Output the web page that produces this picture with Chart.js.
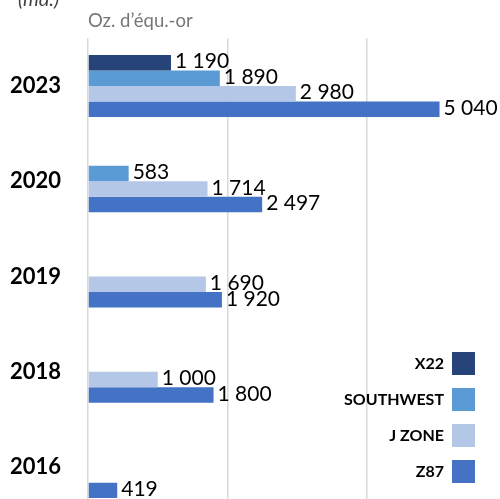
<!DOCTYPE html>
<html>
<head>
<meta charset="utf-8">
<script src="https://cdn.jsdelivr.net/npm/chart.js@4"></script>
<style>
  html, body { margin: 0; padding: 0; overflow: hidden; background: #fff; }
  canvas { display: block; }
</style>
</head>
<body>
<canvas id="prodChart" width="500" height="530"></canvas>
<script>
// categories (années) et séries
var categories = ['2023', '2020', '2019', '2018', '2016'];
var seriesNames = ['X22', 'SOUTHWEST', 'J ZONE', 'Z87'];
var x22 = [1190, null, null, null, null];
var southwest = [1890, 583, null, null, null];
var jZone = [2980, 1714, 1690, 1000, null];
var z87 = [5040, 2497, 1920, 1800, 419];
var gridTicks = [0, 2000, 4000];

var colors = ['#264478', '#5B9BD5', '#B4C7E7', '#4472C4'];
var FONT = 'Lato, "Open Sans", sans-serif';

function formatNumber(v) {
    return String(v).replace(/\B(?=(\d{3})+(?!\d))/g, ' ');
}

// étiquettes de valeur au bout des barres
var valueLabels = {
    id: 'valueLabels',
    afterDatasetsDraw: function (chart) {
        var ctx = chart.ctx;
        ctx.save();
        ctx.font = '21px ' + FONT;
        ctx.fillStyle = '#000';
        ctx.textAlign = 'left';
        ctx.textBaseline = 'middle';
        chart.data.datasets.forEach(function (ds, i) {
            var meta = chart.getDatasetMeta(i);
            meta.data.forEach(function (bar, j) {
                var v = ds.data[j];
                if (v === null || v === undefined) return;
                ctx.fillText(formatNumber(v), bar.x + 4, bar.y - 1);
            });
        });
        ctx.restore();
    }
};

// titres et légende dessinés par-dessus la zone du graphique
var overlayText = {
    id: 'overlayText',
    afterDraw: function (chart) {
        var ctx = chart.ctx;
        var left = chart.chartArea.left;
        ctx.save();
        ctx.textBaseline = 'alphabetic';
        ctx.textAlign = 'left';
        ctx.fillStyle = '#404040';
        ctx.font = 'italic 20px ' + FONT;
        ctx.fillText('(md.)', 18, 6);
        ctx.fillStyle = '#767676';
        ctx.font = '18.5px ' + FONT;
        ctx.fillText('Oz. d\u2019équ.-or', left, 27);

        // légende
        ctx.font = 'bold 16px ' + FONT;
        ctx.textAlign = 'right';
        ctx.textBaseline = 'middle';
        chart.data.datasets.forEach(function (ds, i) {
            var top = 352 + i * 36;
            ctx.fillStyle = ds.backgroundColor;
            ctx.fillRect(452, top, 23, 23);
            ctx.fillStyle = '#000';
            ctx.fillText(ds.label, 444, top + 12);
        });
        ctx.restore();
    }
};

var ctx = document.getElementById('prodChart').getContext('2d');
var prodChart = new Chart(ctx, {
    type: 'bar',
    data: {
        labels: categories,
        datasets: [
            { label: seriesNames[0], data: x22, backgroundColor: colors[0] },
            { label: seriesNames[1], data: southwest, backgroundColor: colors[1] },
            { label: seriesNames[2], data: jZone, backgroundColor: colors[2] },
            { label: seriesNames[3], data: z87, backgroundColor: colors[3] }
        ]
    },
    options: {
        indexAxis: 'y',
        responsive: false,
        animation: false,
        layout: { padding: { top: 38.3, bottom: 5, left: 10, right: 0 } },
        datasets: {
            bar: { categoryPercentage: 0.65, barPercentage: 1, borderWidth: 0 }
        },
        plugins: {
            legend: { display: false },
            tooltip: { enabled: false }
        },
        scales: {
            x: {
                min: 0,
                max: 5907,
                ticks: { display: false, stepSize: 2000 },
                afterBuildTicks: function (scale) {
                    scale.ticks = gridTicks.map(function (v) { return { value: v }; });
                },
                afterFit: function (scale) { scale.height = 0; },
                grid: { color: '#d9d9d9', lineWidth: 1.5, drawTicks: false },
                border: { display: false }
            },
            y: {
                ticks: {
                    color: '#000',
                    padding: 2,
                    crossAlign: 'far',
                    font: { family: FONT, size: 22, weight: 'bold' }
                },
                afterFit: function (scale) { scale.width = 78; },
                grid: { display: false, drawTicks: false },
                border: { display: false }
            }
        }
    },
    plugins: [valueLabels, overlayText]
});
</script>
</body>
</html>
